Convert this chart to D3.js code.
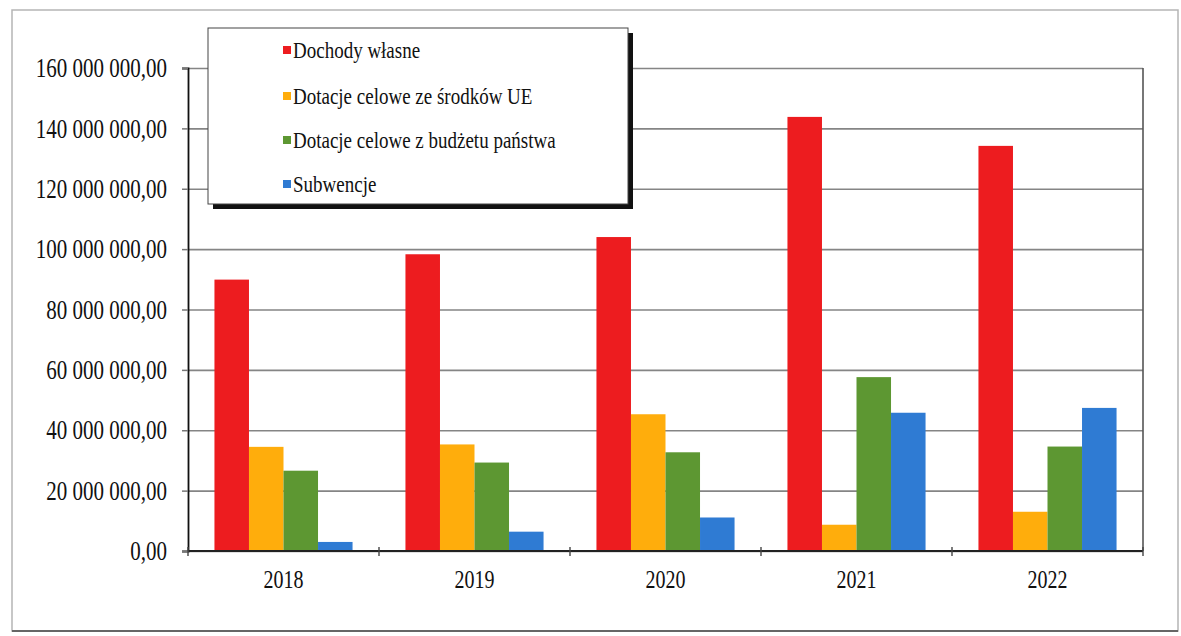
<!DOCTYPE html>
<html>
<head>
<meta charset="utf-8">
<script src="https://cdn.jsdelivr.net/npm/d3@7"></script>
<style>
  body { margin: 0; background: #fff; }
  text { font-family: "Liberation Serif", "Times New Roman", serif; fill: #111; }
</style>
</head>
<body>
<div id="chart"></div>
<script>
// DATA
const categories = ["2018", "2019", "2020", "2021", "2022"];
const seriesNames = [
  "Dochody własne",
  "Dotacje celowe ze środków UE",
  "Dotacje celowe z budżetu państwa",
  "Subwencje",
];
const dochodyWlasne = [89900000, 98300000, 104000000, 143800000, 134200000];
const dotacjeUE = [34500000, 35300000, 45300000, 8700000, 13000000];
const dotacjeBudzet = [26600000, 29300000, 32700000, 57600000, 34600000];
const subwencje = [3000000, 6400000, 11100000, 45800000, 47400000];
const yTicks = [0, 20000000, 40000000, 60000000, 80000000, 100000000, 120000000, 140000000, 160000000];
const seriesColors = ["#ed1c1f", "#ffad0c", "#5d9732", "#2f7bd3"];

const seriesValues = [dochodyWlasne, dotacjeUE, dotacjeBudzet, subwencje];

const width = 1181, height = 636;
const margin = { top: 68, right: 38, bottom: 85, left: 188 };
const plotW = width - margin.left - margin.right;
const plotH = height - margin.top - margin.bottom;
const textStretch = "scale(1,1.25)";

const pl = d3.formatLocale({ decimal: ",", thousands: "\u00a0", grouping: [3], currency: ["", " zł"] });
const fmt = pl.format(",.2f");

const svg = d3.select("#chart").append("svg")
  .attr("width", width)
  .attr("height", height);

// outer frame
svg.append("rect")
  .attr("x", 12).attr("y", 10)
  .attr("width", 1166).attr("height", 621)
  .attr("fill", "#fff")
  .attr("stroke", "#b5b5b5")
  .attr("stroke-width", 1.5);
svg.append("line")
  .attr("x1", 12).attr("x2", 1178)
  .attr("y1", 631).attr("y2", 631)
  .attr("stroke", "#666").attr("stroke-width", 2);

const g = svg.append("g")
  .attr("transform", `translate(${margin.left}, ${margin.top})`);

const x0 = d3.scaleBand()
  .domain(categories)
  .range([0, plotW])
  .paddingInner(0.277)
  .paddingOuter(0.1385);

const x1 = d3.scaleBand()
  .domain(d3.range(seriesNames.length))
  .range([0, x0.bandwidth()])
  .padding(0);

const y = d3.scaleLinear()
  .domain([0, 160000000])
  .range([plotH, 0]);

// GRID
g.append("g")
  .attr("class", "grid")
  .call(d3.axisLeft(y).tickValues(yTicks).tickSize(-plotW).tickFormat(""))
  .call((s) => s.select(".domain").remove())
  .selectAll("line")
  .attr("stroke", "#858585")
  .attr("stroke-width", 1.6);

// plot right border
g.append("line")
  .attr("x1", plotW).attr("x2", plotW)
  .attr("y1", 0).attr("y2", plotH)
  .attr("stroke", "#555").attr("stroke-width", 1.6);

// BARS
const groups = g.selectAll(".year")
  .data(categories)
  .enter()
  .append("g")
  .attr("class", "year")
  .attr("transform", (d) => `translate(${x0(d)}, 0)`);

groups.selectAll("rect")
  .data((d, i) => seriesValues.map((vals, k) => ({ k: k, v: vals[i] })))
  .enter()
  .append("rect")
  .attr("x", (d) => x1(d.k))
  .attr("y", (d) => y(d.v))
  .attr("width", x1.bandwidth())
  .attr("height", (d) => plotH - y(d.v))
  .attr("fill", (d) => seriesColors[d.k]);

// Y AXIS
const yAxis = g.append("g")
  .attr("class", "axis-y")
  .call(d3.axisLeft(y).tickValues(yTicks).tickSize(6).tickPadding(15).tickFormat(fmt));
yAxis.select(".domain").attr("stroke", "#111").attr("stroke-width", 1.8);
yAxis.selectAll(".tick line").attr("stroke", "#777").attr("stroke-width", 1.5);
yAxis.selectAll(".tick text")
  .attr("font-size", 21)
  .attr("dy", "0.33em")
  .attr("transform", textStretch);

// X AXIS
g.append("line")
  .attr("x1", 0).attr("x2", plotW)
  .attr("y1", plotH).attr("y2", plotH)
  .attr("stroke", "#222").attr("stroke-width", 1.8);

const half = (x0.step() - x0.bandwidth()) / 2;
const boundaries = categories.map((c) => x0(c) - half).concat([x0(categories[categories.length - 1]) + x0.bandwidth() + half]);
g.selectAll(".xtick")
  .data(boundaries)
  .enter()
  .append("line")
  .attr("class", "xtick")
  .attr("x1", (d) => d).attr("x2", (d) => d)
  .attr("y1", plotH - 4).attr("y2", plotH + 5)
  .attr("stroke", "#444").attr("stroke-width", 1.4);

const xAxis = g.append("g")
  .attr("transform", `translate(0, ${plotH})`)
  .call(d3.axisBottom(x0).tickSize(0));
xAxis.select(".domain").remove();
xAxis.selectAll(".tick text")
  .attr("font-size", 20)
  .attr("y", 0)
  .attr("dy", 0)
  .attr("transform", "translate(0,37) " + textStretch);

// LEGEND
const legend = svg.append("g").attr("class", "legend");
legend.append("rect")
  .attr("x", 213).attr("y", 33)
  .attr("width", 420).attr("height", 176)
  .attr("fill", "#111");
legend.append("rect")
  .attr("x", 208).attr("y", 28)
  .attr("width", 420).attr("height", 176)
  .attr("fill", "#fff")
  .attr("stroke", "#444")
  .attr("stroke-width", 1);

const legendRows = [50, 96, 140, 184];
const items = legend.selectAll(".item")
  .data(seriesNames)
  .enter()
  .append("g")
  .attr("class", "item")
  .attr("transform", (d, i) => `translate(283, ${legendRows[i]})`);

items.append("rect")
  .attr("x", 0).attr("y", -4)
  .attr("width", 8).attr("height", 8)
  .attr("fill", (d, i) => seriesColors[i]);

items.append("text")
  .attr("x", 10)
  .attr("y", 0)
  .attr("dy", "0.33em")
  .attr("font-size", 19)
  .attr("transform", textStretch)
  .text((d) => d);
</script>
</body>
</html>
